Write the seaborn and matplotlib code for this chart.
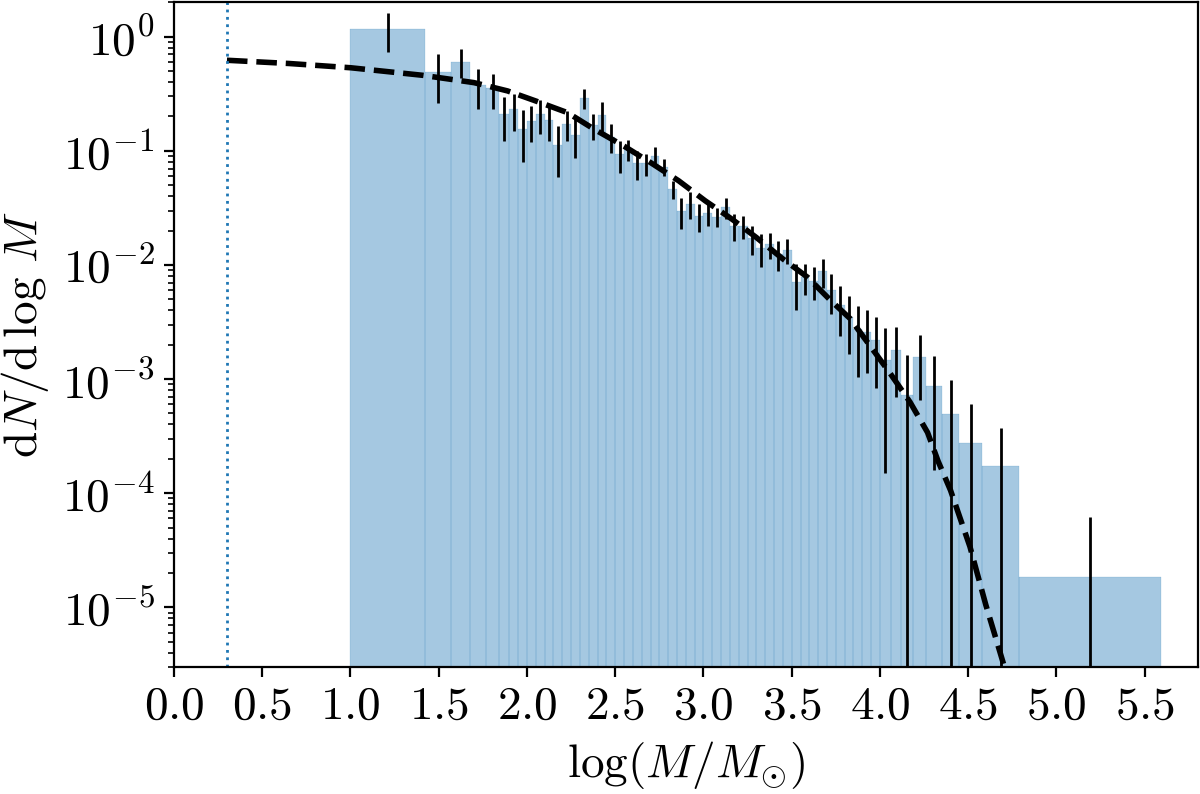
import numpy as np
import matplotlib
matplotlib.use("Agg")
import matplotlib.pyplot as plt
import seaborn as sns

# Histogram bin edges in log(M/Msun)
bin_edges = [1.00, 1.42, 1.57, 1.68, 1.77, 1.84,
             1.90, 1.95, 2.00, 2.05, 2.10, 2.15, 2.20, 2.25, 2.30, 2.35,
             2.40, 2.45, 2.50, 2.55, 2.60, 2.65, 2.70, 2.75, 2.80, 2.85,
             2.90, 2.95, 3.00, 3.05, 3.10, 3.15, 3.20, 3.25, 3.30, 3.35,
             3.40, 3.45, 3.50, 3.55, 3.60, 3.65, 3.70, 3.75, 3.80, 3.85,
             3.90, 3.95, 4.00,
             4.06, 4.12, 4.19, 4.26, 4.35, 4.45, 4.58, 4.79, 5.59]

# dN/dlogM in each bin
dens = [1.18, 0.486, 0.606, 0.378, 0.355, 0.209,
        0.231, 0.154, 0.184, 0.210, 0.185, 0.1115, 0.173, 0.138, 0.290, 0.168,
        0.207, 0.133, 0.0935, 0.103, 0.078, 0.0776, 0.091, 0.0725, 0.0463, 0.0299,
        0.0345, 0.0269, 0.0284, 0.0264, 0.0320, 0.0221, 0.0219, 0.0171, 0.0141, 0.0152,
        0.0126, 0.0135, 0.00715, 0.0078, 0.0072, 0.0088, 0.0060, 0.0045, 0.00353, 0.00272,
        0.00258, 0.00218,
        0.00148, 0.00179, 0.00072, 0.00155, 0.00087, 0.00049, 0.000275, 0.000173, 1.83e-5]

# symmetric (Poisson) errors
dens_err = [0.444, 0.224, 0.170, 0.145, 0.120, 0.086,
            0.083, 0.074, 0.064, 0.070, 0.063, 0.052, 0.051, 0.051, 0.059, 0.043,
            0.063, 0.038, 0.029, 0.021, 0.022, 0.017, 0.017, 0.0121, 0.0083, 0.0091,
            0.0093, 0.0073, 0.0063, 0.0050, 0.0068, 0.0058, 0.0051, 0.0049, 0.0046, 0.0039,
            0.0037, 0.0033, 0.0031, 0.0024, 0.0023, 0.0025, 0.0023, 0.0021, 0.00186, 0.00168,
            0.00146, 0.00135,
            0.00133, 0.00109, 0.00089, 0.00089, 0.00071, 0.00050, 0.000325, 0.000199, 4.36e-5]

# fitted mass function (dashed line)
fit_x = [0.30, 0.65, 1.00, 1.41, 1.70, 1.89, 2.06, 2.23, 2.38, 2.55, 2.70, 2.86,
         3.01, 3.16, 3.30, 3.45, 3.59, 3.72, 3.83, 3.95, 4.06, 4.17, 4.27, 4.33,
         4.40, 4.51, 4.60, 4.70]
fit_y = [0.622, 0.583, 0.535, 0.459, 0.396, 0.335, 0.270, 0.216, 0.155, 0.110, 0.079, 0.0546,
         0.0365, 0.0253, 0.0174, 0.0113, 0.0078, 0.0049, 0.0034, 0.0019, 0.00111, 0.00063, 0.00034, 0.00019,
         0.000106, 3.4e-5, 1.05e-5, 3.2e-6]

mass_limit = 0.3
xtick_vals = [0.0, 0.5, 1.0, 1.5, 2.0, 2.5, 3.0, 3.5, 4.0, 4.5, 5.0, 5.5]

plt.rcParams.update({
    "font.family": "serif",
    "font.serif": ["cmr10"],
    "mathtext.fontset": "cm",
    "axes.formatter.use_mathtext": True,
    "font.size": 17,
})

centers = [(a + b) / 2 for a, b in zip(bin_edges[:-1], bin_edges[1:])]

fig, ax = plt.subplots(figsize=(6, 3.97), dpi=200)
sns.histplot(x=centers, weights=dens, bins=bin_edges, stat="count",
             color="C0", alpha=0.4, edgecolor="C0", linewidth=0.05, ax=ax)
ax.set_yscale("log")
ax.errorbar(centers, dens, yerr=dens_err, fmt="none", ecolor="k", elinewidth=1, capsize=0)
sns.lineplot(x=fit_x, y=fit_y, color="k", linestyle="--", linewidth=2, ax=ax)
ax.axvline(mass_limit, color="C0", linestyle=":", linewidth=1)

ax.set_xlim(0, 5.8)
ax.set_ylim(3e-6, 2)
ax.set_xticks(xtick_vals)
ax.set_xlabel(r"$\log(M/M_{\odot})$")
ax.set_ylabel(r"$\mathrm{d}N/\mathrm{d}\,\log\,M$")

fig.subplots_adjust(left=0.145, right=0.998, top=0.997, bottom=0.16)
fig.savefig("out.png", dpi=200)
